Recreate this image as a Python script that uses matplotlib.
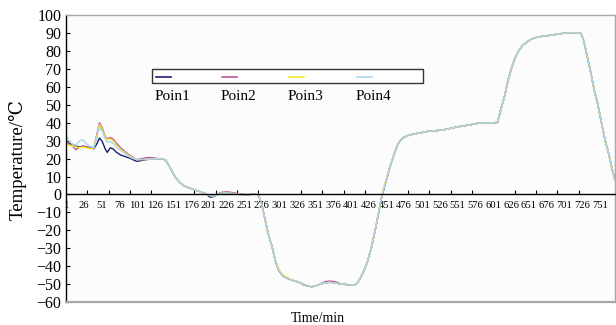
import matplotlib
matplotlib.use("Agg")
import matplotlib.pyplot as plt
from matplotlib.patches import Rectangle
from matplotlib.lines import Line2D

# ---------------- data ----------------
series_names = ["Poin1", "Poin2", "Poin3", "Poin4"]
series_colors = ["#1c1c78", "#c2549a", "#eeee2a", "#a9d6ee"]

head_time = [1, 5, 10, 15, 20, 25, 30, 35, 40, 44, 48, 52, 56, 59, 63, 67, 72, 78, 85, 92, 100, 108, 115, 122, 129]
p1_head = [29.5, 28.5, 28.0, 27.0, 26.5, 27.0, 26.5, 26.0, 25.5, 28.0, 31.5, 29.5, 25.5, 23.5, 26.0, 25.5, 23.5, 22.0, 21.0, 20.0, 18.5, 19.0, 19.5, 20.0, 20.0]
p2_head = [30.0, 28.0, 27.0, 25.0, 26.5, 27.0, 26.5, 26.0, 26.0, 33.0, 40.0, 37.0, 32.5, 31.0, 31.8, 31.0, 28.5, 26.0, 23.5, 21.5, 19.5, 20.0, 20.6, 20.6, 20.0]
p3_head = [28.5, 27.5, 27.0, 26.5, 26.0, 26.5, 26.0, 25.5, 26.0, 32.0, 39.0, 36.0, 32.0, 30.5, 31.0, 30.0, 27.5, 25.0, 23.0, 21.0, 19.5, 19.5, 19.5, 20.0, 20.0]
p4_head = [33.0, 30.0, 28.0, 27.5, 30.0, 30.5, 28.0, 27.0, 26.0, 31.0, 37.5, 35.0, 31.0, 29.0, 29.5, 28.5, 26.5, 24.5, 22.5, 20.5, 19.5, 19.5, 19.5, 20.0, 20.0]

tail_time = [135, 141, 145, 149, 154, 160, 166, 172, 180, 190,
             198, 203, 208, 214, 220, 228, 236, 245, 255, 265,
             270, 273, 276, 280, 285, 290, 295, 300, 306, 313,
             320, 328, 336, 346, 352, 358, 365, 372, 380, 388,
             396, 406, 410, 414, 419, 424, 430, 437, 444, 449,
             455, 461, 466, 470, 475, 480, 490, 500, 510, 520,
             530, 540, 550, 560, 570, 580, 590, 600, 607, 612,
             617, 622, 627, 632, 637, 642, 648, 655, 662, 670,
             680, 690, 700, 710, 718, 724, 728, 733, 738, 743,
             748, 753, 758, 763, 768, 772]
p1_tail = [20, 19.2, 16.5, 13.6, 10, 7, 5, 4, 2.8, 1.5,
           0.3, -1.5, -1.2, 0, 0.8, 0.9, 0.5, 0, -0.1, 0.2,
           0.3, -2, -5.5, -13, -22, -28.5, -37, -42.5, -45.5, -47,
           -48, -49, -50.6, -51.5, -51, -50, -49.3, -49, -49.5, -50,
           -50.3, -50.5, -49.5, -47, -43, -38, -29.5, -16.5, -2, 5.5,
           14, 21.5, 27, 30, 31.8, 32.8, 33.8, 34.5, 35.3, 35.6,
           36, 36.8, 37.7, 38.3, 39, 39.8, 40, 40, 40.2, 48,
           55, 64, 71, 76.5, 80.5, 83, 85, 86.8, 87.7, 88.3,
           88.8, 89.4, 90, 90.3, 90.2, 90, 86, 77, 68, 58,
           50, 40, 30.5, 23, 14, 8]
p2_tail = [20, 19.2, 16.5, 13.6, 10, 7, 5, 4, 2.8, 1.5,
           0.3, -0.6, -0.8, 0.3, 1.3, 1.5, 1.0, 0.2, -0.1, 0.2,
           0.3, -2, -5.5, -13, -22, -28.5, -37, -42.5, -45.5, -47,
           -48, -49, -50.3, -51.5, -51, -50, -48.6, -48.3, -48.8, -50,
           -50.3, -50.5, -49.5, -47, -43, -38, -29.5, -16.5, -1.5, 5.5,
           14, 21.5, 27, 30, 31.8, 32.8, 33.8, 34.5, 35.3, 35.6,
           36, 36.8, 37.7, 38.3, 39, 39.8, 40, 40, 40.2, 48,
           55, 64, 71, 76.5, 80.5, 83, 85, 86.8, 87.7, 88.3,
           88.8, 89.4, 90, 90.3, 90.2, 90, 86, 77, 68, 58,
           50, 40, 30.5, 23, 14, 8]
p3_tail = [20, 19.2, 16.5, 13.6, 10, 7, 5, 4, 2.8, 1.5,
           0.3, -0.6, -0.8, 0, 0.8, 0.9, 0.5, 0, -0.1, 0.2,
           0.3, -2, -5.5, -13, -22, -28.5, -37, -41.8, -45, -46.5,
           -48, -49, -50.3, -51.5, -51, -50, -49.3, -49, -49.5, -50,
           -50.3, -50.5, -49.5, -47, -43, -38, -29.5, -16.5, -1.5, 6.5,
           14, 21.5, 27, 30, 31.8, 32.8, 33.8, 34.5, 35.3, 35.6,
           36, 36.8, 37.7, 38.3, 39, 39.8, 40, 40, 40.2, 48,
           55, 64, 71, 76.5, 80.5, 83, 85, 86.8, 87.7, 88.3,
           88.8, 89.4, 90, 90.3, 90.2, 90, 86, 77, 68, 58,
           50, 40, 30.5, 23, 14, 8]
p4_tail = [20, 19.2, 16.5, 13.6, 10, 7, 5, 4, 2.8, 1.5,
           0.3, -0.6, -0.8, 0, 0.8, 0.9, 0.5, 0, -0.1, 0.2,
           0.3, -2, -5.5, -13, -22, -28.5, -37, -42.5, -45.5, -47,
           -48, -49, -50.3, -51.5, -51, -50, -49.3, -49, -49.5, -50,
           -50.3, -50.5, -49.5, -47, -43, -38, -29.5, -16.5, -1.5, 5.5,
           14, 21.5, 27, 30, 31.8, 32.8, 33.8, 34.5, 35.3, 35.6,
           36, 36.8, 37.7, 38.3, 39, 39.8, 40, 40, 40.2, 48,
           55, 64, 71, 76.5, 80.5, 83, 85, 86.8, 87.7, 88.3,
           88.8, 89.4, 90, 90.3, 90.2, 90, 86, 77, 68, 58,
           50, 40, 30.5, 23, 14, 8]

x_tick_labels = [str(v) for v in range(1, 752, 25)]
y_ticks = [-60, -50, -40, -30, -20, -10, 0, 10, 20, 30, 40, 50, 60, 70, 80, 90, 100]

# ---------------- figure ----------------
W, H = 616, 325
fig = plt.figure(figsize=(W / 100, H / 100), dpi=100)
fig.patch.set_facecolor("white")

def fx(px):
    return px / W

def fy(py):
    return 1 - py / H

serif = ["Liberation Serif", "DejaVu Serif", "DejaVu Sans"]

ax = fig.add_axes([fx(65.5), fy(302), fx(615) - fx(65.5), fy(15.3) - fy(302)])
ax.set_facecolor("#fcfcfc")

heads = [p1_head, p2_head, p3_head, p4_head]
tails = [p1_tail, p2_tail, p3_tail, p4_tail]
for name, col, hd, tl in zip(series_names, series_colors, heads, tails):
    ax.plot(head_time + tail_time, hd + tl, color=col, lw=1.0, label=name,
            solid_joinstyle="round")

ax.set_xlim(0.3, 772)
ax.set_ylim(-60, 100)

# spines
ax.spines["left"].set_color("black")
ax.spines["left"].set_linewidth(1.0)
ax.spines["bottom"].set_position(("data", 0))
ax.spines["bottom"].set_color("black")
ax.spines["bottom"].set_linewidth(1.0)
for s in ["top", "right"]:
    ax.spines[s].set_color("#a8a8a8")
    ax.spines[s].set_linewidth(1.0)
ax.axhline(-60, color="#a8a8a8", lw=1.6, clip_on=False, zorder=5)

# ticks
ax.set_yticks(y_ticks)
ax.set_yticklabels([("\u2212" + str(-v)) if v < 0 else str(v) for v in y_ticks],
                   family=serif, fontsize=11.5)
ax.tick_params(axis="y", direction="in", length=3, width=0.8, pad=3, colors="black")

ax.set_xticks(range(1, 752, 25))
ax.set_xticklabels(x_tick_labels, family=serif, fontsize=7.6)
ax.tick_params(axis="x", which="major", length=0, pad=4.5)
ax.set_xticks(range(31, 752, 30), minor=True)
ax.tick_params(axis="x", which="minor", direction="in", length=3, width=0.8, colors="black")

# axis titles
fig.text(fx(18), fy(160), "Temperature/\u2103", rotation=90, ha="center", va="center",
         family=serif, fontsize=13.5)
fig.text(fx(318), fy(318), "Time/min", ha="center", va="center",
         family=serif, fontsize=10)

# legend (box with samples, labels below)
fig.patches.append(Rectangle((fx(152), fy(83.3)), fx(423) - fx(152), fy(69.3) - fy(83.3),
                             transform=fig.transFigure, facecolor="white",
                             edgecolor="#333333", lw=1.0, zorder=10))
sample_x = [156, 222, 289, 357]
for sx, col, name in zip(sample_x, series_colors, series_names):
    fig.lines.append(Line2D([fx(sx), fx(sx + 15)], [fy(76.5), fy(76.5)],
                            transform=fig.transFigure, color=col, lw=1.2, zorder=11))
    fig.text(fx(sx - 1), fy(96), name, ha="left", va="center", family=serif,
             fontsize=11, zorder=11)

fig.savefig("out.png", dpi=100)
